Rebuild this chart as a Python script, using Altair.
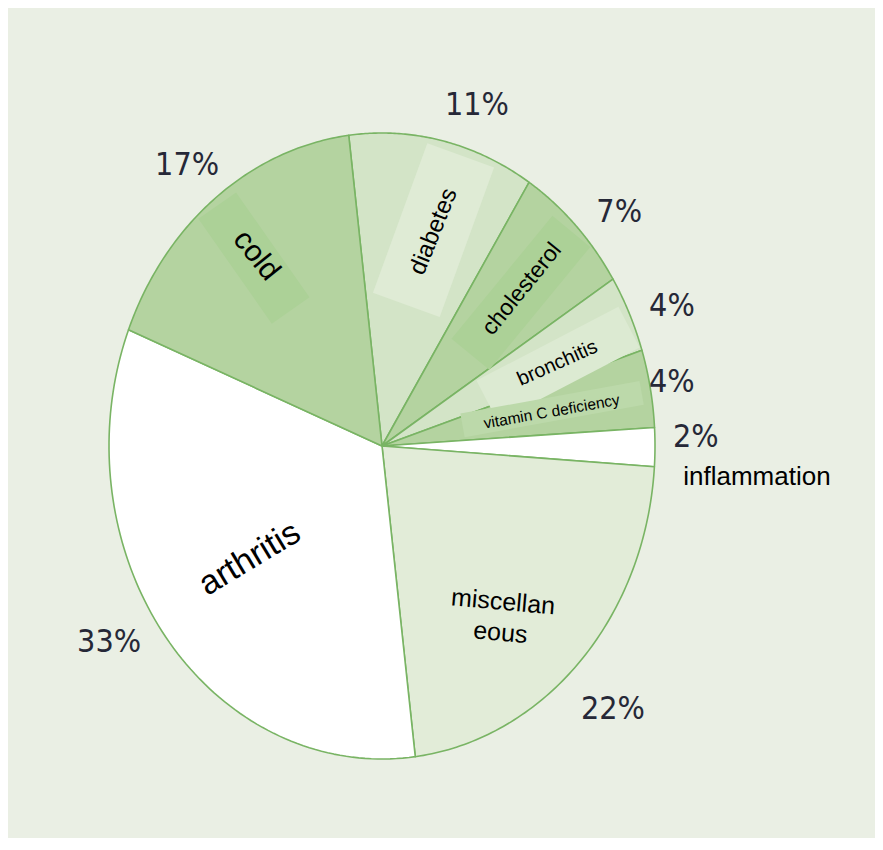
import altair as alt
import pandas as pd

# ---------------- data (clockwise from the top) ----------------
categories = ["diabetes", "cholesterol", "bronchitis", "vitamin C deficiency",
              "inflammation", "miscellaneous", "arthritis", "cold"]
percent = [11, 7, 4, 4, 2, 22, 33, 17]
pct_labels = ["11%", "7%", "4%", "4%", "2%", "22%", "33%", "17%"]
name_labels = ["diabetes", "cholesterol", "bronchitis", "vitamin C deficiency",
               "inflammation", "miscellan\neous", "arthritis", "cold"]

# ---------------- styling / layout ----------------
fills = ["#d3e4c7", "#b4d3a0", "#d3e4c7", "#b4d3a0",
         "#ffffff", "#e2ecd8", "#ffffff", "#b4d3a0"]
start_angle = -7.0          # degrees, where the first slice begins
steps = 90                  # arc resolution per slice

# label placement in polar terms (angle in degrees, radius as fraction of pie radius)
pct_theta = [17.7, 49.3, 67.2, 79.1, 88.6, 134.8, 237.9, 321.5]
pct_r = [1.143, 1.146, 1.152, 1.081, 1.150, 1.192, 1.180, 1.147]
name_theta = [15.5, 45.6, 67.6, 80.0, 94.1, 138.3, 233.3, 322.9]
name_r = [0.711, 0.717, 0.695, 0.631, 1.377, 0.667, 0.604, 0.763]
name_rot = [292, 309, 336, 350, 0, 5, 329, 51]
name_size = [24, 23, 20, 15.5, 26, 25, 34, 30]

# highlight bands behind some labels
hl_theta = [322.0, 15.3, 46.1, 67.9, 79.3]
hl_r = [0.762, 0.715, 0.706, 0.696, 0.634]
hl_len = [128, 159, 159, 160, 182]
hl_wid = [46, 71, 49, 46, 24]
hl_rot = [55, 290, 309.4, 332.5, 349.7]
hl_fill = ["#acd197", "#dfebd5", "#acd197", "#dcead2", "#bcd9aa"]

# ---------------- tables ----------------
rows = []
cum = 0
for cat, p in zip(categories, percent):
    for k in range(-1, steps + 2):
        rows.append({"category": cat, "start": cum, "pct": p, "k": k})
    cum += p
slices = pd.DataFrame(rows)

pct_df = pd.DataFrame({"label": pct_labels, "t": pct_theta, "r": pct_r})
name_df = pd.DataFrame({"label": name_labels, "t": name_theta, "r": name_r,
                        "rot": name_rot, "fs": name_size})
hl_df = pd.DataFrame({
    "t": hl_theta, "r": hl_r, "rot": hl_rot, "fill": hl_fill,
    "size": [l * l for l in hl_len],
    "shape": [f"M-1,{-w / l:.4f}L1,{-w / l:.4f}L1,{w / l:.4f}L-1,{w / l:.4f}Z"
              for l, w in zip(hl_len, hl_wid)],
})

# ellipse: unit circle mapped by the x / y scales
cx, cy, a, b, m = 382, 446, 273, 313, 8
xs = alt.Scale(domain=[-1, 1], range=[cx - a - m, cx + a - m], zero=False, nice=False)
ys = alt.Scale(domain=[-1, 1], range=[cy + b - m, cy - b - m], zero=False, nice=False)
X = alt.X("x:Q", scale=xs, axis=None)
Y = alt.Y("y:Q", scale=ys, axis=None)

polar_x = "datum.r * sin(datum.t * PI / 180)"
polar_y = "datum.r * cos(datum.t * PI / 180)"

pie = alt.Chart(slices).transform_calculate(
    ang=f"({start_angle} + (datum.start + datum.pct * clamp(datum.k, 0, {steps}) / {steps}) * 3.6) * PI / 180"
).transform_calculate(
    x=f"(datum.k < 0 || datum.k > {steps}) ? 0 : sin(datum.ang)",
    y=f"(datum.k < 0 || datum.k > {steps}) ? 0 : cos(datum.ang)",
).mark_line(filled=True, stroke="#79b464", strokeWidth=1.6, strokeJoin="round",
            opacity=1).encode(
    x=X, y=Y,
    fill=alt.Fill("category:N", scale=alt.Scale(domain=categories, range=fills), legend=None),
    detail="category:N",
    order=alt.Order("k:Q"),
)

bands = alt.Chart(hl_df).transform_calculate(x=polar_x, y=polar_y).mark_point(
    filled=True, opacity=1, strokeWidth=0
).encode(
    x=X, y=Y,
    shape=alt.Shape("shape:N", scale=None),
    size=alt.Size("size:Q", scale=None),
    angle=alt.Angle("rot:Q", scale=None),
    fill=alt.Fill("fill:N", scale=None),
)

names = alt.Chart(name_df).transform_calculate(x=polar_x, y=polar_y).mark_text(
    font="Liberation Sans", color="#000000", align="center", baseline="middle",
    lineBreak="\n", lineHeight=31
).encode(
    x=X, y=Y, text="label:N",
    size=alt.Size("fs:Q", scale=None),
    angle=alt.Angle("rot:Q", scale=None),
)

pcts = alt.Chart(pct_df).transform_calculate(x=polar_x, y=polar_y).mark_text(
    font="Liberation Sans Narrow, DejaVu Sans Condensed, sans-serif",
    fontSize=32, color="#262837", align="center", baseline="middle"
).encode(x=X, y=Y, text="label:N")

chart = alt.layer(pie, bands, names, pcts).properties(
    width=867, height=830,
    autosize=alt.AutoSizeParams(type="fit", contains="padding"),
    padding=0, background="#eaefe4",
).configure_view(stroke=None)

chart.save("out.html", embed_options={"renderer": "svg", "actions": False})
